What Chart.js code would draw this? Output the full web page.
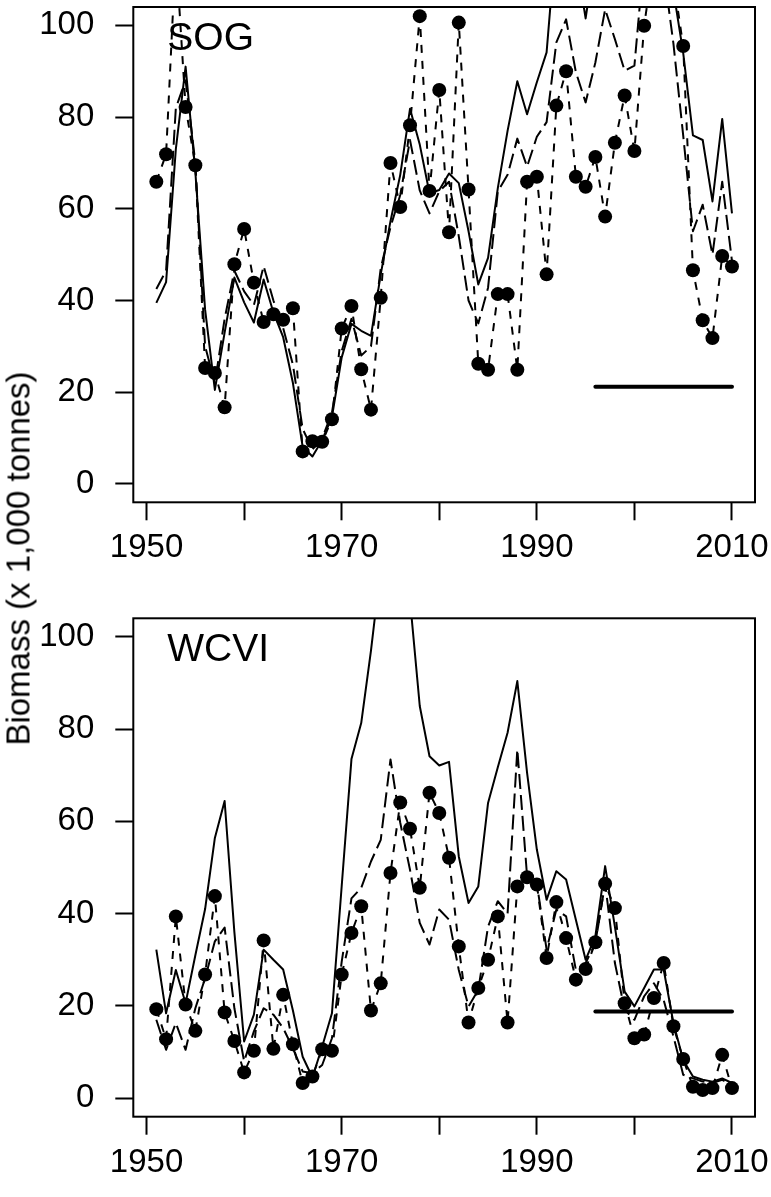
<!DOCTYPE html>
<html>
<head>
<meta charset="utf-8">
<script src="https://cdn.jsdelivr.net/npm/chart.js@4.4.0/dist/chart.umd.min.js"></script>
<style>
  html, body { margin: 0; padding: 0; background: #fff; }
  #wrap { position: relative; width: 771px; height: 1197px; overflow: hidden; }
  canvas { position: absolute; left: 0; }
  #sogChart { top: 0; }
  #wcviChart { top: 590px; }
  #ytitle {
    position: absolute; left: -194.5px; top: 542px;
    width: 420px; height: 33px; line-height: 33px;
    text-align: center; white-space: nowrap;
    font: 33px "Liberation Sans", Arial, sans-serif; color: #000;
    transform: rotate(-90deg);
  }
</style>
</head>
<body>
<div id="wrap">
  <canvas id="sogChart" width="771" height="590"></canvas>
  <canvas id="wcviChart" width="771" height="607"></canvas>
  <div id="ytitle">Biomass (x 1,000 tonnes)</div>
</div>
<script>
const years = [1951, 1952, 1953, 1954, 1955, 1956, 1957, 1958, 1959, 1960,
  1961, 1962, 1963, 1964, 1965, 1966, 1967, 1968, 1969, 1970,
  1971, 1972, 1973, 1974, 1975, 1976, 1977, 1978, 1979, 1980,
  1981, 1982, 1983, 1984, 1985, 1986, 1987, 1988, 1989, 1990,
  1991, 1992, 1993, 1994, 1995, 1996, 1997, 1998, 1999, 2000,
  2001, 2002, 2003, 2004, 2005, 2006, 2007, 2008, 2009, 2010];

const xTicks = [1950, 1960, 1970, 1980, 1990, 2000, 2010];
const yTicks = [0, 20, 40, 60, 80, 100];

// Strait of Georgia
const sogSolid = [39.5, 44, 73, 91, 68, 38, 20.5, 33, 45, 39.6,
  35.2, 44.6, 37.4, 32, 22, 8.1, 6, 9.6, 14.6, 27.6,
  34.9, 33.4, 32.3, 45.7, 57.3, 67.4, 81.8, 74, 63.4, 64.1,
  67.7, 65.6, 55.1, 43.5, 49.3, 64.5, 77, 87.8, 80.6, 87.6,
  94.1, 120, 118, 115, 101.5, 116, 120, 118, 112, 115,
  120, 125, 120, 107.5, 94, 76, 75, 61.6, 79.6, 59];
const sogLongDash = [42.5, 46.5, 82, 88, 70, 30, 22, 36, 46.5, 42,
  39, 47.5, 40, 34, 26, 12, 7.5, 10, 15.5, 29,
  36, 28, 30, 47, 56, 63, 75, 64, 59, 63.8,
  65.9, 54, 40, 35, 42.8, 63.8, 67.4, 75.3, 69.2, 75.7,
  78.9, 96.3, 101.3, 89.8, 83.2, 91.9, 103.5, 97, 90.1, 91.2,
  115, 120, 112, 96, 76, 55.1, 60.9, 50, 65.9, 48.6];
const sogObs = [65.9, 71.9, 116, 82.2, 69.5, 25.3, 24.2, 16.7, 47.9, 55.6,
  43.9, 35.3, 37, 35.8, 38.3, 7.1, 9.3, 9.2, 14.1, 33.9,
  38.8, 25, 16.2, 40.6, 70, 60.4, 78.2, 102, 63.9, 85.9,
  54.9, 100.6, 64.2, 26.2, 24.9, 41.4, 41.4, 24.9, 65.9, 67,
  45.7, 82.5, 90, 67, 64.8, 71.3, 58.3, 74.4, 84.7, 72.6,
  99.9, 115, 125, 110, 95.5, 46.6, 35.7, 31.8, 49.7, 47.4];

// West coast of Vancouver Island
const wcviSolid = [32.2, 18.4, 27.8, 20.6, 31, 41, 56.4, 64.4, 36, 12.3,
  18.1, 32.2, 30, 27.9, 19, 9, 4.5, 11.2, 18.4, 46,
  73.5, 81.3, 97, 115, 125, 120, 108, 85, 74.1, 72.1,
  72.9, 52.4, 42.3, 45.9, 64, 71.7, 79.2, 90.4, 70.5, 53.9,
  43, 49.2, 47.4, 38.7, 30, 35.1, 50.3, 37.2, 23.1, 19.9,
  23.9, 27.9, 27.9, 16.3, 8.3, 4.7, 4, 3.6, 4.3, 3.3];
const wcviLongDash = [17, 10.5, 16.3, 10.5, 19.5, 26, 34, 37, 19.5, 8,
  14.5, 19.5, 18.1, 15.2, 10.8, 5.8, 5.4, 7.2, 13, 29.6,
  43.3, 45.6, 51.3, 56, 73.4, 59.7, 49.5, 38, 33.3, 40.9,
  38.7, 27.8, 19.9, 23.5, 37.2, 42.7, 40, 75.6, 48.1, 46.6,
  32.2, 40.9, 39.4, 27.8, 29.3, 33.6, 46.6, 29.3, 19.2, 17,
  22.1, 24.9, 21.3, 13.4, 5.1, 4.3, 3.6, 3.3, 4, 2.9];
const wcviObs = [19.3, 12.8, 39.4, 20.3, 14.6, 26.8, 43.8, 18.6, 12.4, 5.6,
  10.3, 34.2, 10.7, 22.4, 11.7, 3.3, 4.7, 10.6, 10.3, 26.8,
  35.8, 41.6, 19, 24.9, 48.8, 64.1, 58.4, 45.6, 66.2, 61.8,
  52.1, 32.9, 16.4, 23.9, 30, 39.4, 16.4, 45.9, 47.9, 46.3,
  30.4, 42.5, 34.7, 25.7, 28, 33.8, 46.5, 41.2, 20.6, 13,
  13.8, 21.7, 29.3, 15.6, 8.5, 2.5, 1.8, 2.2, 9.4, 2.2];

// reference level drawn as a thick segment over the recent years
const refYears = [1996, 2010];
const sogRef = 21.2;
const wcviRef = 18.8;

const FONT = '"Liberation Sans", Arial, sans-serif';

const xy = (vals) => years.map((yr, i) => ({ x: yr, y: vals[i] }));

// frame around the plot region plus the area name in the corner
const framePlugin = {
  id: 'frame',
  afterDraw(chart, args, opts) {
    const a = chart.chartArea;
    const ctx = chart.ctx;
    ctx.save();
    ctx.strokeStyle = '#000';
    ctx.lineWidth = 2;
    ctx.strokeRect(a.left, a.top, a.right - a.left, a.bottom - a.top);
    ctx.font = '39px ' + FONT;
    ctx.fillStyle = '#000';
    ctx.textBaseline = 'alphabetic';
    ctx.fillText(opts.label, a.left + 34, a.top + 42.6);
    ctx.restore();
  }
};

function makeChart(id, label, solid, longDash, obs, refLevel, padTop, axisH) {
  const ctx = document.getElementById(id).getContext('2d');
  return new Chart(ctx, {
    type: 'line',
    data: {
      datasets: [
        {
          data: xy(solid),
          borderColor: '#000', borderWidth: 2,
          pointRadius: 0, tension: 0
        },
        {
          data: xy(longDash),
          borderColor: '#000', borderWidth: 2, borderDash: [15, 6],
          pointRadius: 0, tension: 0
        },
        {
          data: xy(obs),
          borderColor: '#000', borderWidth: 2, borderDash: [8, 8],
          pointRadius: 7, pointBackgroundColor: '#000', pointBorderWidth: 0,
          tension: 0
        },
        {
          data: refYears.map(yr => ({ x: yr, y: refLevel })),
          borderColor: '#000', borderWidth: 4, borderCapStyle: 'round',
          pointRadius: 0
        }
      ]
    },
    options: {
      responsive: false,
      animation: false,
      devicePixelRatio: 1,
      borderJoinStyle: 'round',
      layout: { padding: { top: padTop, right: 16, bottom: 0, left: 0 } },
      plugins: {
        legend: { display: false },
        tooltip: { enabled: false },
        frame: { label: label }
      },
      scales: {
        x: {
          type: 'linear',
          min: 1948.64, max: 2012.36,
          afterBuildTicks: (s) => { s.ticks = xTicks.map(v => ({ value: v })); },
          afterFit: (s) => { s.height = axisH; s.paddingLeft = 0; s.paddingRight = 0; },
          grid: {
            drawOnChartArea: false, drawTicks: true, tickLength: 18,
            tickColor: '#000', tickWidth: 2
          },
          border: { display: false },
          ticks: {
            autoSkip: false, maxRotation: 0, padding: 8,
            color: '#000', font: { family: FONT, size: 33 },
            callback: (v) => ((v - 1950) % 20 === 0 ? String(v) : '')
          }
        },
        y: {
          min: -4, max: 104,
          afterBuildTicks: (s) => { s.ticks = yTicks.map(v => ({ value: v })); },
          afterFit: (s) => { s.width = 133.3; s.paddingTop = 0; s.paddingBottom = 0; },
          grid: {
            drawOnChartArea: false, drawTicks: true, tickLength: 18,
            tickColor: '#000', tickWidth: 2
          },
          border: { display: false },
          ticks: {
            padding: 21, color: '#000', font: { family: FONT, size: 33 },
            callback: (v) => String(v)
          }
        }
      }
    },
    plugins: [framePlugin]
  });
}

makeChart('sogChart', 'SOG', sogSolid, sogLongDash, sogObs, sogRef, 4, 590 - 502.3);
makeChart('wcviChart', 'WCVI', wcviSolid, wcviLongDash, wcviObs, wcviRef, 28.3, 607 - 526.7);
</script>
</body>
</html>
